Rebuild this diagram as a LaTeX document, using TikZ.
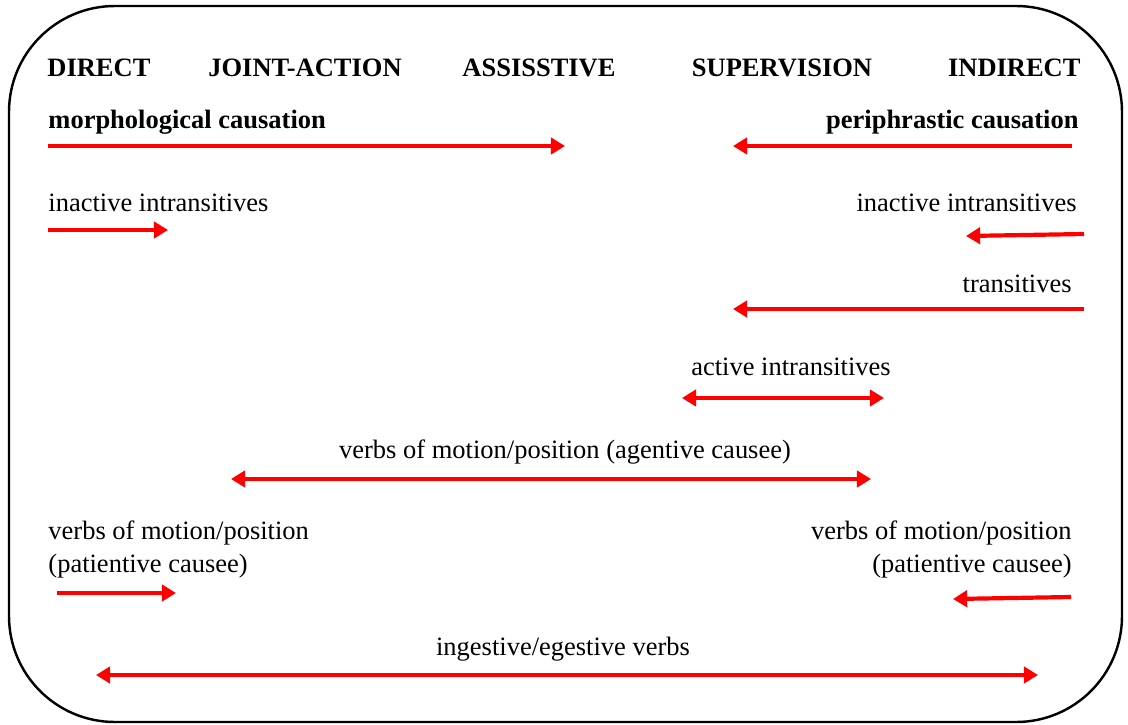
\documentclass[tikz,border=0pt]{standalone}
\usepackage{fontspec}
\setmainfont{Liberation Serif}
\usepackage{tikz}
\usetikzlibrary{arrows.meta}
\definecolor{arrowred}{RGB}{255,0,0}

\begin{document}
\begin{tikzpicture}[x=0.453pt,y=-0.453pt,
  lbl/.style={inner sep=0pt,font=\fontsize{12}{14.5}\selectfont},
  head/.style={inner sep=0pt,font=\fontsize{12}{14.5}\selectfont\bfseries},
  arr/.style={arrowred,line width=1.9pt,-{Triangle[length=6.4pt,width=7.4pt]}},
  dbl/.style={arrowred,line width=1.9pt,{Triangle[length=6.4pt,width=7.4pt]}-{Triangle[length=6.4pt,width=7.4pt]}}]
\useasboundingbox (0,0) rectangle (1128,725);
% frame
\draw[line width=1.1pt,rounded corners=48pt] (9,6) rectangle (1122,722);

% header
\node[head,anchor=base west] (direct) at (47,77) {DIRECT};
\node[head,anchor=base] (joint) at (305,77) {JOINT-ACTION};
\node[head,anchor=base] (assist) at (539,77) {ASSISSTIVE};
\node[head,anchor=base] (superv) at (782,77) {SUPERVISION};
\node[head,anchor=base east] (indirect) at (1081,77) {INDIRECT};

% causation types
\node[head,anchor=base west] (morph) at (48,128) {morphological causation};
\node[head,anchor=base east] (periph) at (1079,128) {periphrastic causation};
\coordinate (morphA) at (48,146);
\coordinate (morphB) at (565,146);
\coordinate (periphA) at (1072,146);
\coordinate (periphB) at (733,146);
\draw[arr] (morphA) -- (morphB);
\draw[arr] (periphA) -- (periphB);

% inactive intransitives
\node[lbl,anchor=base west] (inactL) at (48,211) {inactive intransitives};
\node[lbl,anchor=base east] (inactR) at (1077,211) {inactive intransitives};
\coordinate (inactLa) at (48,230);
\coordinate (inactLb) at (168,230);
\coordinate (inactRa) at (1084,234);
\coordinate (inactRb) at (966,236);
\draw[arr] (inactLa) -- (inactLb);
\draw[arr] (inactRa) -- (inactRb);

% transitives
\node[lbl,anchor=base east] (trans) at (1072,292) {transitives};
\coordinate (transA) at (1084,309);
\coordinate (transB) at (733,309);
\draw[arr] (transA) -- (transB);

% active intransitives
\node[lbl,anchor=base] (act) at (791,375) {active intransitives};
\coordinate (actA) at (682,398);
\coordinate (actB) at (884,398);
\draw[dbl] (actA) -- (actB);

% agentive causee
\node[lbl,anchor=base] (agent) at (565,458) {verbs of motion/position (agentive causee)};
\coordinate (agentA) at (231,479);
\coordinate (agentB) at (871,479);
\draw[dbl] (agentA) -- (agentB);

% patientive causee
\node[lbl,anchor=base west,align=left] (patL) at (48,572) {verbs of motion/position\\(patientive causee)};
\node[lbl,anchor=base east,align=right] (patR) at (1072,572) {verbs of motion/position\\(patientive causee)};
\coordinate (patLa) at (57,593);
\coordinate (patLb) at (176,593);
\coordinate (patRa) at (1071,597);
\coordinate (patRb) at (953,599);
\draw[arr] (patLa) -- (patLb);
\draw[arr] (patRa) -- (patRb);

% ingestive/egestive
\node[lbl,anchor=base] (ingest) at (563,655) {ingestive/egestive verbs};
\coordinate (ingestA) at (96,675);
\coordinate (ingestB) at (1038,675);
\draw[dbl] (ingestA) -- (ingestB);
\end{tikzpicture}
\end{document}
